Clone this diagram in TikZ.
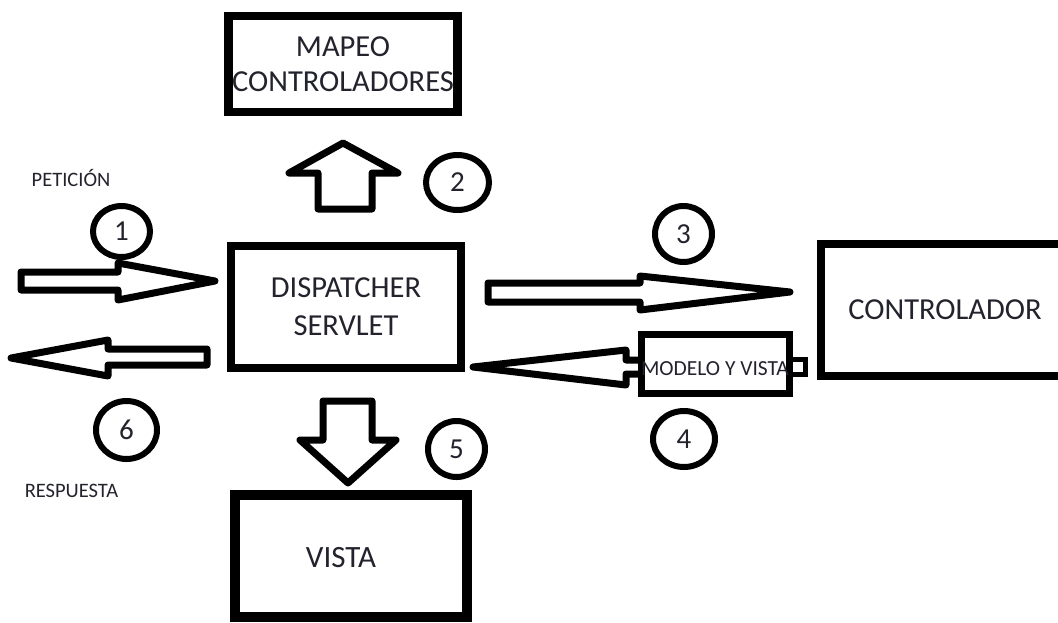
\documentclass[tikz,border=0pt]{standalone}
\usepackage{fontspec}
\setmainfont{Carlito}
\usetikzlibrary{shapes.geometric}
\definecolor{ink}{RGB}{35,35,45}
\begin{document}
\begin{tikzpicture}[x=1pt,y=-1pt,
  box/.style={draw=black, line width=8.5pt, fill=white, rectangle, inner sep=0pt,
    text=ink, align=center},
  bigtxt/.style={text=ink, inner sep=0pt, anchor=base, font=\fontsize{31}{35}\selectfont},
  smalltxt/.style={text=ink, inner sep=0pt, anchor=base, font=\fontsize{20.5}{20.5}\selectfont},
  blockarrow/.style={draw=black, line width=7pt, fill=white, line join=round},
  num/.style={ellipse, draw=black, line width=6pt, fill=white, inner sep=0pt,
    text=ink, font=\fontsize{29}{29}\selectfont}
]
\useasboundingbox (0,0) rectangle (1058,622);
\clip (0,0) rectangle (1058,622);

% main boxes
\node[box, minimum width=229pt, minimum height=96pt,
  font=\fontsize{30.5}{35}\selectfont] (mapeo) at (343,64) {MAPEO\\CONTROLADORES};
\node[box, minimum width=230pt, minimum height=122pt,
  font=\fontsize{30.5}{38}\selectfont] (dispatcher) at (346,307) {DISPATCHER\\SERVLET};
\node[box, minimum width=248pt, minimum height=132pt,
  font=\fontsize{30.5}{35}\selectfont] (controlador) at (945,310) {CONTROLADOR};
\node[box, line width=10pt, minimum width=232pt, minimum height=122pt] (vista) at (351,556) {};
\node[bigtxt] (vistatxt) at (341,567) {VISTA};

% block arrows
\draw[blockarrow] (21,272) -- (118,272) -- (118,263) -- (215,281) -- (118,300)
  -- (118,290) -- (21,290) -- cycle;
\draw[blockarrow] (207,349) -- (108,349) -- (108,340) -- (11,358) -- (108,376)
  -- (108,365) -- (207,365) -- cycle;
\draw[blockarrow] (488,283) -- (640,283) -- (640,276) -- (790,292) -- (640,310)
  -- (640,302) -- (488,302) -- cycle;
\draw[blockarrow] (318,209) -- (318,173) -- (289,173) -- (343,143) -- (398,173)
  -- (372,173) -- (372,209) -- cycle;
\draw[blockarrow] (323,401) -- (372,401) -- (372,440) -- (396,440) -- (348,483)
  -- (300,440) -- (323,440) -- cycle;
\draw[blockarrow] (650,360) -- (626,360) -- (626,350) -- (473,367) -- (626,385)
  -- (626,374) -- (650,374) -- cycle;

% model-and-view box with its small tab
\draw[line width=5pt, fill=white] (785,359.5) rectangle (805.5,374.5);
\node[box, line width=7pt, minimum width=148pt, minimum height=59pt] (modelo) at (715,363.5) {};
\node[text=ink, inner sep=0pt, anchor=base, font=\fontsize{21.5}{21.5}\selectfont]
  (modelotxt) at (715,375) {MODELO Y VISTA};

% side labels
\node[smalltxt] (peticion) at (71,186) {PETICIÓN};
\node[smalltxt] (respuesta) at (71.5,497) {RESPUESTA};

% step numbers
\node[num, minimum width=57pt, minimum height=51pt] (n1) at (121.5,231.5) {1};
\node[num, minimum width=63pt, minimum height=55pt] (n2) at (457.5,182.5) {2};
\node[num, minimum width=57pt, minimum height=56pt] (n3) at (683.5,234) {3};
\node[num, minimum width=62pt, minimum height=56pt] (n4) at (684,439) {4};
\node[num, minimum width=57pt, minimum height=56pt] (n5) at (456.5,449) {5};
\node[num, minimum width=61pt, minimum height=58pt] (n6) at (126.5,430) {6};
\end{tikzpicture}
\end{document}
